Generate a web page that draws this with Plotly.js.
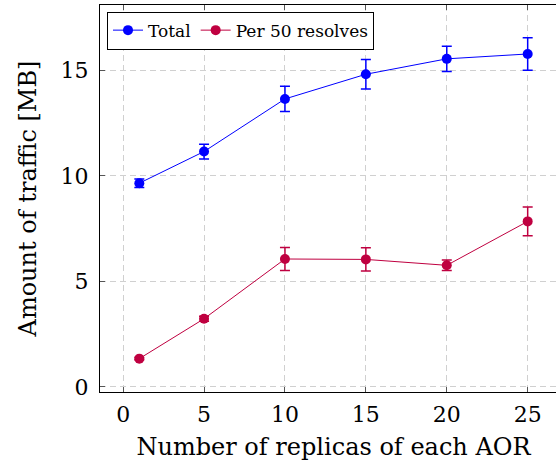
<!DOCTYPE html>
<html>
<head>
<meta charset="utf-8">
<script src="https://cdn.plot.ly/plotly-3.0.1.min.js"></script>
<style>
html, body { margin: 0; padding: 0; overflow: hidden; background: #fff; }
#chart { width: 570px; height: 468px; }
</style>
</head>
<body>
<div id="chart"></div>
<script>
const replicas = [1, 5, 10, 15, 20, 25];
const totalMB = [9.65, 11.15, 13.64, 14.81, 15.54, 15.77];
const totalErr = [0.2, 0.35, 0.6, 0.7, 0.6, 0.77];
const per50MB = [1.34, 3.23, 6.06, 6.04, 5.76, 7.84];
const per50Err = [0.05, 0.12, 0.55, 0.55, 0.25, 0.68];
const seriesNames = ['Total', 'Per 50 resolves'];
const xTicks = [0, 5, 10, 15, 20, 25];
const yTicks = [0, 5, 10, 15];

const FONT = '"DejaVu Serif", "Liberation Serif", serif';
const blue = '#0000ff';
const purple = '#bf0040';

const traces = [
  {
    x: replicas, y: totalMB, name: seriesNames[0], type: 'scatter', mode: 'lines+markers',
    line: {color: blue, width: 1},
    marker: {color: blue, size: 10, symbol: 'circle'},
    error_y: {type: 'data', array: totalErr, visible: true, color: blue, thickness: 1.5, width: 5}
  },
  {
    x: replicas, y: per50MB, name: seriesNames[1], type: 'scatter', mode: 'lines+markers',
    line: {color: purple, width: 1},
    marker: {color: purple, size: 10, symbol: 'circle'},
    error_y: {type: 'data', array: per50Err, visible: true, color: purple, thickness: 1.5, width: 5}
  }
];

const axisCommon = {
  showline: true, linecolor: '#000', linewidth: 1, mirror: 'ticks',
  ticks: 'inside', ticklen: 5, tickcolor: '#555', tickwidth: 1,
  showgrid: true, gridcolor: '#d0d0d0', gridwidth: 1, griddash: '6px,4px',
  zeroline: false,
  tickfont: {family: FONT, size: 22, color: '#000'}
};

const layout = {
  width: 570, height: 468,
  margin: {l: 100, r: 3, t: 5, b: 76},
  paper_bgcolor: '#fff', plot_bgcolor: '#fff',
  font: {family: FONT, color: '#000'},
  showlegend: true,
  legend: {
    orientation: 'h', x: 0.015, y: 0.983, xanchor: 'left', yanchor: 'top',
    bgcolor: '#fff', bordercolor: '#000', borderwidth: 1,
    font: {family: FONT, size: 17, color: '#000'},
    itemwidth: 30, tracegroupgap: 0
  },
  xaxis: Object.assign({}, axisCommon, {
    range: [-1.43, 27.43], tickvals: xTicks, ticktext: xTicks.map(String),
    ticklabelstandoff: 3,
    title: {text: 'Number of replicas of each AOR', font: {family: FONT, size: 24, color: '#000'}, standoff: 11}
  }),
  yaxis: Object.assign({}, axisCommon, {
    range: [-0.24, 18.09], tickvals: yTicks, ticktext: yTicks.map(String),
    ticklabelstandoff: 6,
    title: {text: 'Amount of traffic [MB]', font: {family: FONT, size: 24, color: '#000'}, standoff: 17}
  })
};

Plotly.newPlot('chart', traces, layout, {displayModeBar: false, staticPlot: true});
</script>
</body>
</html>
